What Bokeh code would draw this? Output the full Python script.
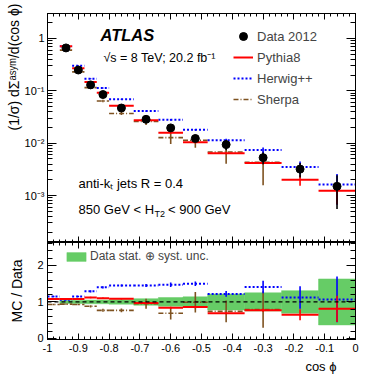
import numpy as np
from bokeh.plotting import figure
from bokeh.layouts import column
from bokeh.models import (Range1d, FixedTicker, LinearAxis, LogAxis, Label, Span, Title,
                          Legend, LegendItem, NumeralTickFormatter, ColumnDataSource,
                          CustomJSTickFormatter)
from bokeh.embed import file_html
from bokeh.resources import INLINE

nan = float("nan")

# ---------------- data ----------------
bin_lo = [-1.00, -0.96, -0.92, -0.88, -0.84, -0.80, -0.72, -0.64, -0.56, -0.48, -0.36, -0.24, -0.12]
bin_hi = [-0.96, -0.92, -0.88, -0.84, -0.80, -0.72, -0.64, -0.56, -0.48, -0.36, -0.24, -0.12, 0.00]

data_2012 = [nan, 0.66, 0.25, 0.13, 0.085, 0.047, 0.0286, 0.0196, 0.0123, 0.0094, 0.0053, 0.0032, 0.0015]
data_unc = [nan, 0.04, 0.04, 0.05, 0.05, 0.06, 0.09, 0.12, 0.14, 0.22, 0.25, 0.31, 0.63]   # relative

pythia8 = [nan, 0.71, 0.27, 0.147, 0.092, 0.052, 0.0274, 0.0159, 0.0104, 0.0064, 0.0042, 0.0020, 0.00123]
herwig = [nan, 0.71, 0.30, 0.17, 0.113, 0.069, 0.041, 0.028, 0.018, 0.0114, 0.0074, 0.0035, 0.00163]
sherpa = [nan, 0.60, 0.23, 0.115, 0.064, 0.037, 0.026, 0.0128, 0.0114, 0.0068, 0.0043, nan, nan]

ratio_pythia8 = [1.08, 1.08, 1.08, 1.12, 1.10, 1.09, 0.97, 0.84, 0.86, 0.69, 0.77, 0.65, 0.81]
ratio_herwig = [1.15, 1.06, 1.15, 1.29, 1.40, 1.45, 1.45, 1.47, 1.50, 1.22, 1.41, 1.12, 1.07]
ratio_sherpa = [0.93, 0.94, 0.93, 0.88, 0.77, 0.77, 0.95, 0.69, 0.99, 0.74, 0.79, nan, nan]

ratio_pythia8_err = [0.02, 0.02, 0.02, 0.02, 0.02, 0.02, 0.03, 0.03, 0.03, 0.03, 0.04, 0.15, 0.36]
ratio_herwig_err = [0.02, 0.02, 0.02, 0.03, 0.03, 0.03, 0.04, 0.06, 0.06, 0.08, 0.17, 0.31, 0.63]
ratio_sherpa_err = [0.02, 0.02, 0.02, 0.03, 0.04, 0.05, 0.14, 0.17, 0.28, 0.30, 0.50, nan, nan]

# ---------------- styling ----------------
FONT = "Liberation Sans"
RED = "#ff0000"
BLUE = "#0000ff"
BROWN = "#7e5220"
GREEN = "#66cc66"

lo = np.array(bin_lo)
hi = np.array(bin_hi)
mid = (lo + hi) / 2

YTOP, YBOT = 3.0, 1.27e-4
RTOP, RBOT = 2.63, -0.03

# helpers to place annotation text inside the frame (page pixel -> data)
def px_x(px):
    return -1 + (px - 44) / 308.0

def px_ylog(py):
    a, b = np.log10(YTOP), np.log10(YBOT)
    return float(10 ** (a - (py - 13) * (a - b) / 229.0))

x_major = [round(-1 + 0.1 * i, 1) for i in range(11)]
x_minor = [round(-1 + 0.02 * i, 2) for i in range(51)]
ylog_major = [1e-3, 1e-2, 1e-1, 1.0]
ylog_minor = [m * 10.0 ** e for e in range(-4, 1) for m in range(2, 10) if 1.2e-4 < m * 10.0 ** e < 3.05]
yr_major = [0, 1, 2]
yr_minor = [round(0.2 * i, 1) for i in range(14)]

EMPTY = CustomJSTickFormatter(code="return ''")


def style_axis(ax, major_in, minor_in, labels, size="11px", standoff=4):
    ax.major_tick_in = major_in
    ax.major_tick_out = 0
    ax.minor_tick_in = minor_in
    ax.minor_tick_out = 0
    ax.axis_line_color = "black"
    ax.major_tick_line_color = "black"
    ax.minor_tick_line_color = "black"
    ax.axis_line_width = 1
    if labels:
        ax.major_label_text_font = FONT
        ax.major_label_text_font_size = size
        ax.major_label_text_color = "black"
        ax.major_label_standoff = standoff
    else:
        ax.formatter = EMPTY
        ax.major_label_text_font_size = "1px"
        ax.major_label_standoff = 0


# ---------------- top panel ----------------
top = figure(frame_width=308, frame_height=229, x_range=Range1d(-1, 0),
             y_range=Range1d(YBOT, YTOP), y_axis_type="log",
             output_backend="svg", toolbar_location=None,
             min_border_left=44, min_border_right=14, min_border_top=13, min_border_bottom=0)
top.xgrid.visible = False
top.ygrid.visible = False
top.outline_line_color = "black"

xt = FixedTicker(ticks=x_major, minor_ticks=x_minor)
yt = FixedTicker(ticks=ylog_major, minor_ticks=ylog_minor)
top.xaxis[0].ticker = xt
style_axis(top.xaxis[0], 6, 3, False)
top.yaxis[0].ticker = yt
style_axis(top.yaxis[0], 9, 5, True, standoff=3)
top.yaxis[0].major_label_overrides = {1.0: "1", 0.1: "10\u207b\u00b9", 0.01: "10\u207b\u00b2", 0.001: "10\u207b\u00b3"}
ax_r = LogAxis(ticker=yt)
style_axis(ax_r, 9, 5, False)
top.add_layout(ax_r, "right")
ax_a = LinearAxis(ticker=xt)
style_axis(ax_a, 6, 3, False)
top.add_layout(ax_a, "above")

top.add_layout(Title(text="(1/\u03c3) d\u03a3\u1d43\u02e2\u02b8\u1d50/d(cos \u03d5)", align="right",
                     offset=-10, standoff=0, text_font=FONT, text_font_size="14px",
                     text_font_style="normal", text_color="black"), "left")

d = np.array(data_2012)
du = np.array(data_unc)
src_d = ColumnDataSource(dict(x=mid, y=d, y0=d * (1 - du), y1=d * (1 + du)))


def mc_top(vals, rvals, rerr, color, dash, width):
    v = np.array(vals)
    rel = np.array(rerr) / np.array(rvals)
    s = ColumnDataSource(dict(x0=lo, x1=hi, xm=mid, y=v, y0=v * (1 - rel), y1=v * (1 + rel)))
    top.segment(x0="xm", x1="xm", y0="y0", y1="y1", source=s, line_color=color, line_width=1.6)
    return top.segment(x0="x0", x1="x1", y0="y", y1="y", source=s, line_color=color,
                       line_width=width, line_dash=dash)


r_sh = mc_top(sherpa, ratio_sherpa, ratio_sherpa_err, BROWN, "5 2 1 2", 1.6)
r_hw = mc_top(herwig, ratio_herwig, ratio_herwig_err, BLUE, "2 2", 2)
r_py = mc_top(pythia8, ratio_pythia8, ratio_pythia8_err, RED, "solid", 2)

top.segment(x0="x", x1="x", y0="y0", y1="y1", source=src_d, line_color="black", line_width=1.6)
r_data = top.scatter(x="x", y="y", source=src_d, size=8, marker="circle",
                     fill_color="black", line_color="black")

leg = Legend(items=[LegendItem(label="Data 2012", renderers=[r_data]),
                    LegendItem(label="Pythia8", renderers=[r_py]),
                    LegendItem(label="Herwig++", renderers=[r_hw]),
                    LegendItem(label="Sherpa", renderers=[r_sh])],
             location=(186, 133), orientation="vertical",
             background_fill_alpha=0, border_line_color=None,
             padding=0, margin=0, spacing=1, glyph_width=20, glyph_height=20,
             label_height=20, label_standoff=4,
             label_text_font=FONT, label_text_font_size="13px")
top.add_layout(leg)

def lab(fig, x, y, text, size, style="normal", align="left", baseline="middle"):
    fig.add_layout(Label(x=float(x), y=float(y), text=text, text_font=FONT, text_font_size=size,
                         text_font_style=style, text_align=align, text_baseline=baseline,
                         text_color="black"))

lab(top, px_x(97), px_ylog(34), "ATLAS", "16.5px", style="bold italic")
lab(top, px_x(100), px_ylog(57), "\u221as = 8 TeV; 20.2 fb\u207b\u00b9", "12.5px")
lab(top, px_x(75), px_ylog(183), "anti-k\u209c jets R = 0.4", "13px")
lab(top, px_x(75), px_ylog(209), "850 GeV < H", "13px")
lab(top, px_x(151), px_ylog(213), "T2", "9px")
lab(top, px_x(164.5), px_ylog(209), "< 900 GeV", "13px")

# ---------------- ratio panel ----------------
rat = figure(frame_width=308, frame_height=97, x_range=top.x_range,
             y_range=Range1d(RBOT, RTOP),
             output_backend="svg", toolbar_location=None,
             min_border_left=44, min_border_right=14, min_border_top=0, min_border_bottom=36)
rat.xgrid.visible = False
rat.ygrid.visible = False
rat.outline_line_color = "black"

rat.xaxis[0].ticker = xt
style_axis(rat.xaxis[0], 6, 3, True, size="11px", standoff=4)
rat.xaxis[0].formatter = NumeralTickFormatter(format="0.[0]")
yrt = FixedTicker(ticks=yr_major, minor_ticks=yr_minor)
rat.yaxis[0].ticker = yrt
style_axis(rat.yaxis[0], 9, 5, True)
ax_r2 = LinearAxis(ticker=yrt)
style_axis(ax_r2, 9, 5, False)
rat.add_layout(ax_r2, "right")
ax_a2 = LinearAxis(ticker=xt)
style_axis(ax_a2, 6, 3, False)
rat.add_layout(ax_a2, "above")

rat.add_layout(Title(text="MC / Data", align="center", vertical_align="top", standoff=16,
                     text_font=FONT, text_font_size="14px", text_font_style="normal",
                     text_color="black"), "left")
rat.add_layout(Title(text="cos \u03d5", align="right", offset=19, standoff=4,
                     text_font=FONT, text_font_size="13px", text_font_style="normal",
                     text_color="black"), "below")

src_band = ColumnDataSource(dict(l=lo, r=hi, b=1 - du, t=1 + du))
r_band = rat.quad(left="l", right="r", bottom="b", top="t", source=src_band,
                  fill_color=GREEN, line_color=GREEN, line_width=0.5)
rat.add_layout(Span(location=1, dimension="width", line_color="black",
                    line_dash="4 3", line_width=1.3))


def mc_rat(vals, errs, color, dash, width):
    v = np.array(vals)
    e = np.array(errs)
    s = ColumnDataSource(dict(x0=lo, x1=hi, xm=mid, y=v, y0=v - e, y1=v + e))
    rat.segment(x0="xm", x1="xm", y0="y0", y1="y1", source=s, line_color=color, line_width=1.6)
    rat.segment(x0="x0", x1="x1", y0="y", y1="y", source=s, line_color=color,
                line_width=width, line_dash=dash)


mc_rat(ratio_sherpa, ratio_sherpa_err, BROWN, "5 2 1 2", 1.6)
mc_rat(ratio_herwig, ratio_herwig_err, BLUE, "2 2", 2)
mc_rat(ratio_pythia8, ratio_pythia8_err, RED, "solid", 2)

leg2 = Legend(items=[LegendItem(label="Data stat. \u2295 syst. unc.", renderers=[r_band])],
              location=(17, 76), orientation="vertical",
              background_fill_alpha=0, border_line_color=None,
              padding=0, margin=0, spacing=0, glyph_width=24, glyph_height=11,
              label_height=11, label_standoff=2,
              label_text_font=FONT, label_text_font_size="12px")
rat.add_layout(leg2)

layout = column(top, rat, spacing=0)
open("out.html", "w").write(file_html(layout, INLINE))
